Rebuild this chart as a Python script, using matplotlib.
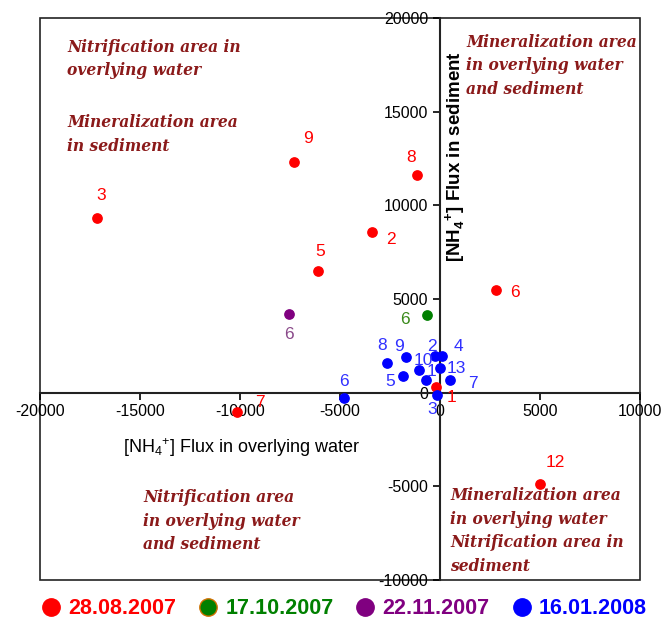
import matplotlib
matplotlib.use("Agg")
import matplotlib.pyplot as plt
from matplotlib.patches import Rectangle
from matplotlib.lines import Line2D

plt.rcParams['font.family'] = ['Liberation Sans', 'DejaVu Sans']
plt.rcParams['axes.unicode_minus'] = False
plt.rcParams['mathtext.fontset'] = 'custom'
plt.rcParams['mathtext.rm'] = 'Liberation Sans'
plt.rcParams['mathtext.bf'] = 'Liberation Sans:bold'

# data: flux in overlying water (x) vs flux in sediment (y)
red_labels = ["3", "9", "8", "2", "5", "6", "7", "12", "1"]
red_x = [-17150, -7300, -1150, -3400, -6100, 2800, -10150, 5000, -200]
red_y = [9350, 12300, 11600, 8550, 6500, 5500, -1050, -4900, 300]

green_labels = ["6"]
green_x = [-650]
green_y = [4150]

purple_labels = ["6"]
purple_x = [-7550]
purple_y = [4200]

blue_labels = ["8", "9", "2", "4", "10", "13", "5", "1", "7", "3", "6"]
blue_x = [-2650, -1700, -250, 100, -1050, 0, -1850, -700, 500, -150, -4800]
blue_y = [1600, 1900, 1950, 1950, 1200, 1300, 900, 700, 700, -150, -300]

series_names = ["28.08.2007", "17.10.2007", "22.11.2007", "16.01.2008"]

# label offsets (pixels) for each point label
red_off = [(4, 22), (14, 24), (-6, 18), (19, -7), (2, 19), (19, -3), (23, 10), (15, 22), (15, -10)]
green_off = [(-22, -5)]
purple_off = [(0, -21)]
blue_off = [(-5, 17), (-7, 11), (-3, 10), (16, 10), (4, 10), (16, 0), (-13, -6),
            (5, 8), (23, -4), (-5, -14), (0, 17)]

fig = plt.figure(figsize=(6.64, 6.25), dpi=100)
ax = fig.add_axes([40 / 664, 1 - 580 / 625, 600 / 664, 562 / 625])

series = [
    (red_x, red_y, red_labels, red_off, "#ff0000", "#ff0000", "#ff0000"),
    (green_x, green_y, green_labels, green_off, "#008000", "#008000", "#3a8a1a"),
    (purple_x, purple_y, purple_labels, purple_off, "#800080", "#800080", "#8a4a8a"),
    (blue_x, blue_y, blue_labels, blue_off, "#0000ff", "#0000ff", "#3030ff"),
]

for xs, ys, labels, offs, fc, ec, tc in series:
    ax.scatter(xs, ys, s=45, color=fc, edgecolors=ec, zorder=3)
    for x, y, lab, off in zip(xs, ys, labels, offs):
        ax.annotate(lab, (x, y), xytext=(off[0] * 0.72, off[1] * 0.72),
                    textcoords="offset points", ha="center", va="center",
                    color=tc, fontsize=12.5, zorder=4)

ax.set_xlim(-20000, 10000)
ax.set_ylim(-10000, 20000)
ax.set_xticks([-20000, -15000, -10000, -5000, 0, 5000, 10000])
ax.set_yticks([-10000, -5000, 0, 5000, 10000, 15000, 20000])
ax.tick_params(labelsize=11.5, length=5, width=1.2)

ax.spines['left'].set_position('zero')
ax.spines['bottom'].set_position('zero')
ax.spines['right'].set_visible(False)
ax.spines['top'].set_visible(False)
for sp in ['left', 'bottom']:
    ax.spines[sp].set_linewidth(1.5)
    ax.spines[sp].set_color("#222222")

ax.add_patch(Rectangle((0, 0), 1, 1, transform=ax.transAxes, fill=False,
                       lw=1.2, edgecolor="#222222", clip_on=False))

ax.text(-9900, -2950, r"[NH$_4$$^{+}$] Flux in overlying water", ha="center",
        va="center", fontsize=13)
ax.text(800, 12600, r"[NH$_\mathbf{4}$$^\mathbf{+}$] Flux in sediment", rotation=90,
        ha="center", va="center", fontsize=13.5, fontweight="bold")

note = dict(color="#8b1a1a", fontsize=11.2, fontweight="bold", style="italic",
            family="DejaVu Serif", ha="left", va="top", linespacing=1.5)
ax.text(-18650, 18900, "Nitrification area in\noverlying water", **note)
ax.text(-18650, 14850, "Mineralization area\nin sediment", **note)
ax.text(1300, 19150, "Mineralization area\nin overlying water\nand sediment", **note)
ax.text(-14850, -5150, "Nitrification area\nin overlying water\nand sediment", **note)
ax.text(500, -5050, "Mineralization area\nin overlying water\nNitrification area in\nsediment", **note)

handles = []
for (xs, ys, labels, offs, fc, ec, tc), name in zip(series, series_names):
    edge = "#d07000" if name == "17.10.2007" else fc
    handles.append(Line2D([], [], marker="o", linestyle="none", markersize=12.5,
                          markerfacecolor=fc, markeredgecolor=edge, label=name))
leg = fig.legend(handles=handles, loc="center", bbox_to_anchor=(0.514, 1 - 609 / 625),
                 ncol=4, frameon=False, handletextpad=0.1, handlelength=1.4,
                 columnspacing=0.78, prop={"weight": "bold", "size": 15.5})
for txt, (xs, ys, labels, offs, fc, ec, tc) in zip(leg.get_texts(), series):
    txt.set_color(fc)

fig.savefig("out.png", dpi=100)
